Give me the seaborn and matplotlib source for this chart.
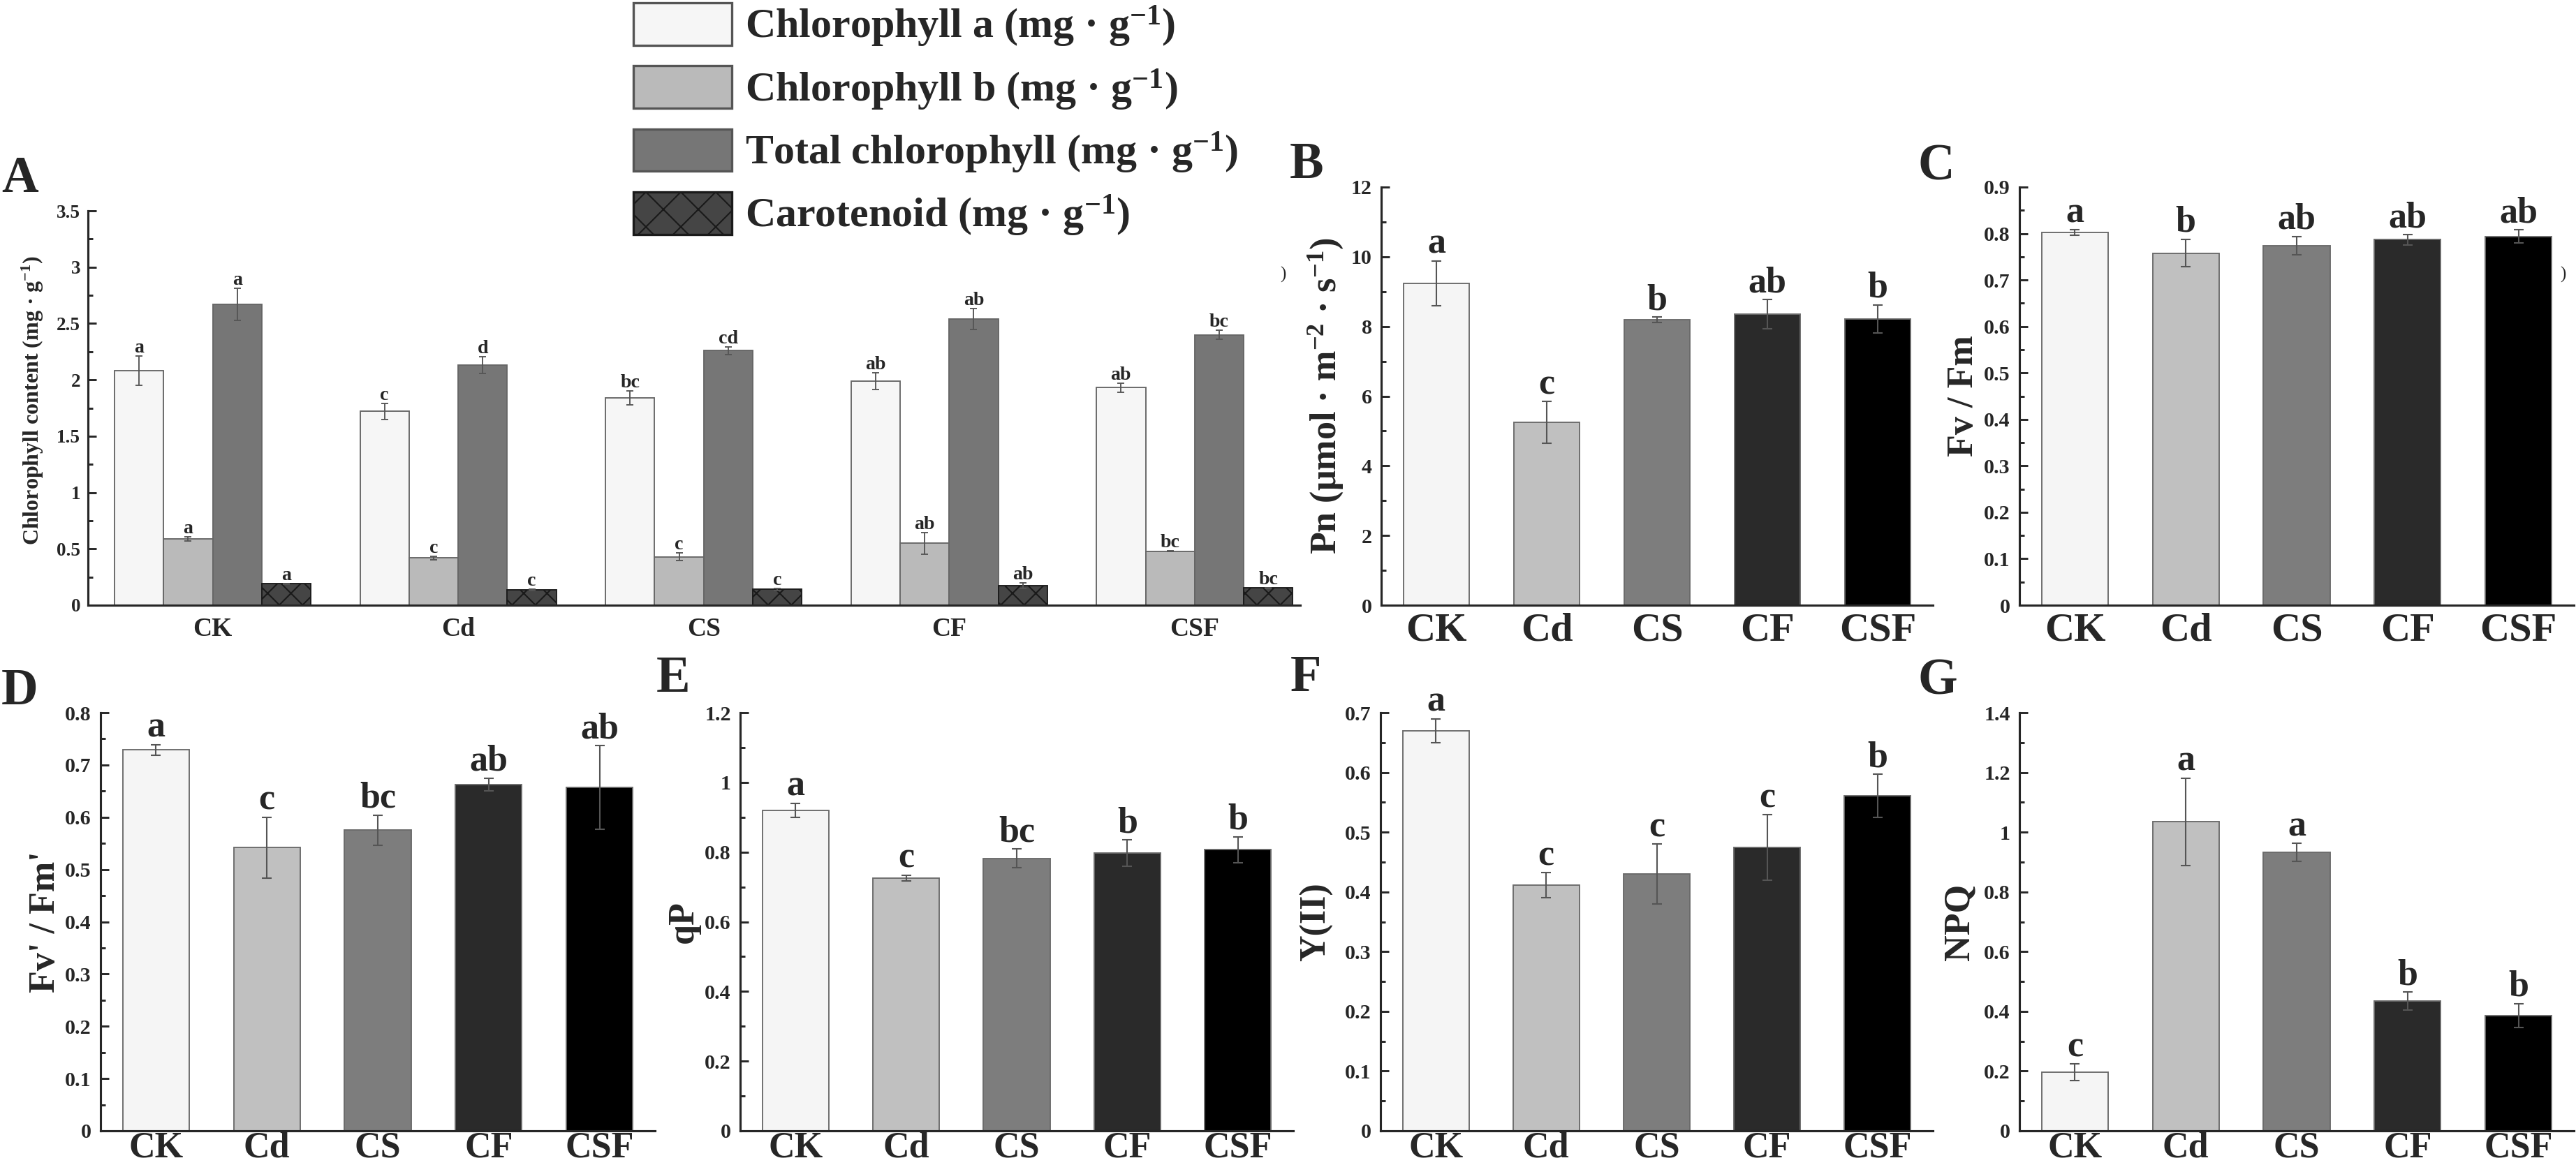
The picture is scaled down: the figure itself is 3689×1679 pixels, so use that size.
import numpy as np
import pandas as pd
import matplotlib
matplotlib.use('Agg')
import matplotlib.pyplot as plt
from matplotlib.patches import Patch
from matplotlib.ticker import MultipleLocator, AutoMinorLocator, FormatStrFormatter
import seaborn as sns

treatments = ['CK', 'Cd', 'CS', 'CF', 'CSF']

# panel A: pigments
pigment_names = ['Chlorophyll a (mg · g$^{-1}$)', 'Chlorophyll b (mg · g$^{-1}$)',
                 'Total chlorophyll (mg · g$^{-1}$)', 'Carotenoid (mg · g$^{-1}$)']
chl_a = [2.08, 1.72, 1.84, 1.99, 1.93]
chl_a_err = [0.13, 0.07, 0.06, 0.075, 0.04]
chl_b = [0.59, 0.42, 0.43, 0.55, 0.48]
chl_b_err = [0.02, 0.015, 0.035, 0.095, 0.005]
total_chl = [2.67, 2.13, 2.26, 2.54, 2.40]
total_chl_err = [0.14, 0.075, 0.035, 0.09, 0.04]
carotenoid = [0.19, 0.135, 0.14, 0.175, 0.152]
carotenoid_err = [0.005, 0.005, 0.01, 0.025, 0.005]
chl_a_let = ['a', 'c', 'bc', 'ab', 'ab']
chl_b_let = ['a', 'c', 'c', 'ab', 'bc']
total_let = ['a', 'd', 'cd', 'ab', 'bc']
car_let = ['a', 'c', 'c', 'ab', 'bc']

# panels B-G
pn = [9.24, 5.24, 8.19, 8.35, 8.22]
pn_err = [0.64, 0.60, 0.08, 0.42, 0.40]
pn_let = ['a', 'c', 'b', 'ab', 'b']
fvfm = [0.802, 0.758, 0.774, 0.787, 0.794]
fvfm_err = [0.006, 0.030, 0.020, 0.011, 0.014]
fvfm_let = ['a', 'b', 'ab', 'ab', 'ab']
fvfm_p = [0.729, 0.542, 0.575, 0.663, 0.657]
fvfm_p_err = [0.010, 0.058, 0.029, 0.012, 0.080]
fvfm_p_let = ['a', 'c', 'bc', 'ab', 'ab']
qp = [0.920, 0.726, 0.782, 0.797, 0.807]
qp_err = [0.020, 0.008, 0.027, 0.038, 0.037]
qp_let = ['a', 'c', 'bc', 'b', 'b']
yii = [0.670, 0.411, 0.430, 0.474, 0.561]
yii_err = [0.020, 0.021, 0.050, 0.055, 0.036]
yii_let = ['a', 'c', 'c', 'c', 'b']
npq = [0.196, 1.035, 0.933, 0.434, 0.386]
npq_err = [0.028, 0.146, 0.030, 0.030, 0.040]
npq_let = ['c', 'a', 'a', 'b', 'b']

pig_colors = ['#f6f6f6', '#bababa', '#767676', '#454545']
trt_colors = ['#f5f5f5', '#c0c0c0', '#7d7d7d', '#2a2a2a', '#000000']

sns.set_theme(style='ticks')
plt.rcParams['font.family'] = ['Liberation Serif', 'DejaVu Serif']
plt.rcParams['font.weight'] = 'bold'
plt.rcParams['axes.labelweight'] = 'bold'
plt.rcParams['mathtext.default'] = 'regular'
plt.rcParams['hatch.linewidth'] = 0.5
plt.rcParams['axes.linewidth'] = 0.75

W, H = 3689, 1679
fig = plt.figure(figsize=(W / 300, H / 300), dpi=300)


def box(l, r, t, b):
    return [l / W, 1 - b / H, (r - l) / W, (b - t) / H]


def style_axis(ax, top, step, tsize, xsize, ypad, xpad):
    sns.despine(ax=ax)
    ax.set_ylim(0, top)
    ax.yaxis.set_major_locator(MultipleLocator(step))
    ax.yaxis.set_minor_locator(AutoMinorLocator(2))
    ax.yaxis.set_major_formatter(FormatStrFormatter('%g'))
    ax.tick_params(axis='y', which='major', direction='in', length=2.9, width=0.7,
                   labelsize=tsize, pad=ypad)
    ax.tick_params(axis='y', which='minor', direction='in', length=1.6, width=0.7)
    ax.tick_params(axis='x', length=0, labelsize=xsize, pad=xpad)
    ax.set_xlabel('')
    ax.set_facecolor('white')


# ---- panel A ----
axA = fig.add_axes(box(126, 1862, 302, 867))
dfA = pd.DataFrame({
    'treatment': treatments * 4,
    'pigment': np.repeat(pigment_names, 5),
    'value': chl_a + chl_b + total_chl + carotenoid,
})
sns.barplot(data=dfA, x='treatment', y='value', hue='pigment', palette=pig_colors,
            width=0.8, saturation=1, errorbar=None, legend=False,
            edgecolor='#666666', linewidth=0.45, ax=axA)
for bar in axA.containers[3]:
    bar.set_hatch('xxx')
    bar.set_edgecolor('#1a1a1a')
pig_vals = [chl_a, chl_b, total_chl, carotenoid]
pig_errs = [chl_a_err, chl_b_err, total_chl_err, carotenoid_err]
pig_lets = [chl_a_let, chl_b_let, total_let, car_let]
for cont, vals, errs, lets in zip(axA.containers, pig_vals, pig_errs, pig_lets):
    xs = [b.get_x() + b.get_width() / 2 for b in cont]
    axA.errorbar(xs, vals, yerr=errs, fmt='none', ecolor='#555555',
                 elinewidth=0.45, capsize=1.3, capthick=0.45)
    for x, v, e, t in zip(xs, vals, errs, lets):
        axA.annotate(t, (x, v + e), xytext=(0, 1.2), textcoords='offset points',
                     ha='center', va='baseline', fontsize=6.7, fontweight='bold')
style_axis(axA, 3.5, 0.5, 6.5, 9, 2.6, 4)
axA.set_xlim(-0.508, 4.43)
axA.set_ylabel('Chlorophyll content (mg · g$^{-1}$)', fontsize=7.7)
axA.yaxis.set_label_coords(-0.0351, 0.52)

handles = [Patch(facecolor=c, edgecolor='#555555', linewidth=0.8) for c in pig_colors]
handles[3].set_hatch('xx')
handles[3].set_edgecolor('#1a1a1a')
fig.legend(handles, pigment_names, loc='upper left',
           bbox_to_anchor=(907 / W, 1 - 4 / H), frameon=False, fontsize=14.4,
           handlelength=2.35, handleheight=1.18, handletextpad=0.32,
           labelspacing=0.4, borderpad=0, borderaxespad=0)

# ---- panels B-G ----
panels = [
    ('B', (1978, 2768, 268, 867), pn, pn_err, pn_let, 12, 2, 'Pn (μmol · m$^{-2}$ · s$^{-1}$)', -0.066),
    ('C', (2892, 3686, 268, 867), fvfm, fvfm_err, fvfm_let, 0.9, 0.1, 'Fv / Fm', -0.071),
    ('D', (144, 938, 1021, 1620), fvfm_p, fvfm_p_err, fvfm_p_let, 0.8, 0.1, "Fv' / Fm'", -0.069),
    ('E', (1060, 1852, 1021, 1620), qp, qp_err, qp_let, 1.2, 0.2, 'qP', -0.072),
    ('F', (1977, 2768, 1021, 1620), yii, yii_err, yii_let, 0.7, 0.1, 'Y(II)', -0.086),
    ('G', (2892, 3686, 1021, 1620), npq, npq_err, npq_let, 1.4, 0.2, 'NPQ', -0.078),
]
for name, (l, r, t, b), vals, errs, lets, top, step, ylab, lx in panels:
    ax = fig.add_axes(box(l, r, t, b))
    sns.barplot(x=treatments, y=vals, hue=treatments, palette=trt_colors, width=0.6,
                saturation=1, errorbar=None, legend=False,
                edgecolor='#6a6a6a', linewidth=0.45, ax=ax)
    xs = [p.get_x() + p.get_width() / 2 for p in ax.patches]
    ax.errorbar(xs, vals, yerr=errs, fmt='none', ecolor='#555555',
                elinewidth=0.5, capsize=1.6, capthick=0.5)
    for x, v, e, s in zip(xs, vals, errs, lets):
        ax.annotate(s, (x, v + e), xytext=(0, 2.6), textcoords='offset points',
                    ha='center', va='baseline', fontsize=12.5, fontweight='bold')
    if t < 500:
        style_axis(ax, top, step, 7.2, 14, 3.2, 2.6)
    else:
        style_axis(ax, top, step, 7.2, 12.5, 3.2, 0)
    ax.set_xlim(-0.5, 4.5)
    ax.set_ylabel(ylab, fontsize=12.5)
    ax.yaxis.set_label_coords(lx, 0.5)

# panel letters
letters = {'A': (2, 275), 'B': (1847, 255), 'C': (2747, 257), 'D': (2, 1009),
           'E': (940, 991), 'F': (1848, 990), 'G': (2747, 995)}
for s, (x, y) in letters.items():
    fig.text(x / W, 1 - y / H, s, fontsize=17.5, fontweight='bold',
             ha='left', va='baseline')

# stray bracket marks seen in the original figure
fig.text(1833 / W, 1 - 400 / H, ')', fontsize=6, fontweight='normal')
fig.text(3666 / W, 1 - 400 / H, ')', fontsize=6, fontweight='normal')

fig.savefig('out.png', dpi=300, facecolor='white')
